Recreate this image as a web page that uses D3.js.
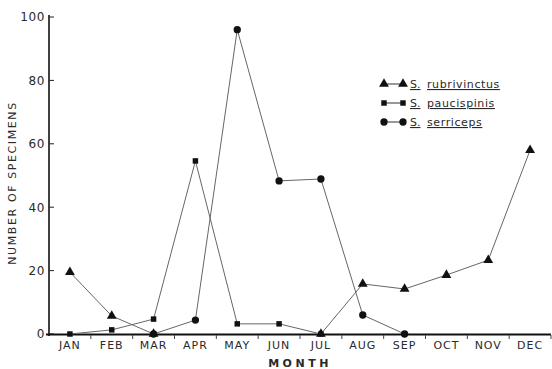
<!DOCTYPE html>
<html><head><meta charset="utf-8">
<script src="https://cdn.jsdelivr.net/npm/d3@7"></script>
<style>body{margin:0;background:#fff}text{font-family:"DejaVu Sans",sans-serif;fill:#2a2a2a}</style>
</head><body><svg id="c" width="552" height="369"></svg>
<script>
const months = ["JAN","FEB","MAR","APR","MAY","JUN","JUL","AUG","SEP","OCT","NOV","DEC"];
const rubrivinctus = [19.5, 5.7, 0, null, null, null, 0, 15.8, 14.2, 18.6, 23.3, 58];
const paucispinis = [0, 1.3, 4.7, 54.6, 3.2, 3.2, 0, null, null, null, null, null];
const serriceps = [null, null, 0, 4.4, 96, 48.3, 48.9, 6, 0, null, null, null];
const yTicks = [0, 20, 40, 60, 80, 100];
const seriesNames = ["rubrivinctus", "paucispinis", "serriceps"];

const svg = d3.select("#c");
const x = d3.scaleBand().domain(months).range([49, 551]).padding(0);
const y = d3.scaleLinear().domain([0, 100]).range([334, 17]);

// y axis
svg.append("line").attr("x1", 49).attr("x2", 49).attr("y1", 15).attr("y2", 336)
  .attr("stroke", "#111").attr("stroke-width", 1.6);
yTicks.forEach(t => {
  svg.append("line").attr("x1", 49).attr("x2", 54).attr("y1", y(t)).attr("y2", y(t)).attr("stroke", "#222").attr("stroke-width", 1);
  svg.append("text").attr("x", 45).attr("y", y(t)).attr("dy", "0.36em").attr("text-anchor", "end")
    .attr("font-size", 12).attr("letter-spacing", 0.6).text(t);
});
// x axis
svg.append("line").attr("x1", 46).attr("x2", 551).attr("y1", 334.5).attr("y2", 334.5)
  .attr("stroke", "#111").attr("stroke-width", 2);
months.forEach((m, i) => {
  if (i > 0) svg.append("line").attr("x1", x(m)).attr("x2", x(m)).attr("y1", 335).attr("y2", 339).attr("stroke", "#444").attr("stroke-width", 1);
  svg.append("text").attr("x", x(m) + x.bandwidth() / 2).attr("y", 349).attr("text-anchor", "middle")
    .attr("font-size", 11).attr("letter-spacing", 1).text(m);
});
svg.append("line").attr("x1", 551).attr("x2", 551).attr("y1", 335).attr("y2", 339).attr("stroke", "#444");

svg.append("text").attr("x", 300).attr("y", 367).attr("text-anchor", "middle").attr("font-size", 11)
  .attr("font-weight", "bold").attr("letter-spacing", 3.5).text("MONTH");
svg.append("text").attr("transform", "translate(16,183) rotate(-90)").attr("text-anchor", "middle")
  .attr("font-size", 11).attr("letter-spacing", 1.6).text("NUMBER OF SPECIMENS");

const cx = i => x(months[i]) + x.bandwidth() / 2;
const line = d3.line().defined(d => d != null).x((d, i) => cx(i)).y(d => y(d));
const sym = {
  rubrivinctus: d3.symbol().type(d3.symbolTriangle).size(42),
  paucispinis: d3.symbol().type(d3.symbolSquare).size(30),
  serriceps: d3.symbol().type(d3.symbolCircle).size(42)
};
const data = {rubrivinctus, paucispinis, serriceps};
seriesNames.forEach(n => {
  svg.append("path").attr("d", line(data[n])).attr("fill", "none").attr("stroke", "#666").attr("stroke-width", 1);
});
seriesNames.forEach(n => {
  data[n].forEach((v, i) => {
    if (v == null) return;
    svg.append("path").attr("d", sym[n]()).attr("transform", `translate(${cx(i)},${y(v)})`).attr("fill", "#111");
  });
});

// legend
const legY = [84, 103, 122];
const species = ["rubrivinctus", "paucispinis", "serriceps"];
species.forEach((s, k) => {
  const g = svg.append("g");
  g.append("line").attr("x1", 384).attr("x2", 403).attr("y1", legY[k]).attr("y2", legY[k]).attr("stroke", "#333");
  [384, 403].forEach(px => g.append("path").attr("d", sym[s]()).attr("transform", `translate(${px},${legY[k]})`).attr("fill", "#111"));
  g.append("text").attr("x", 410).attr("y", legY[k] + 4).attr("font-size", 11)
    .attr("text-decoration", "underline").text("S.");
  g.append("text").attr("x", 427).attr("y", legY[k] + 4).attr("font-size", 11).attr("letter-spacing", 0.6)
    .attr("text-decoration", "underline").text(s);
});
</script></body></html>
